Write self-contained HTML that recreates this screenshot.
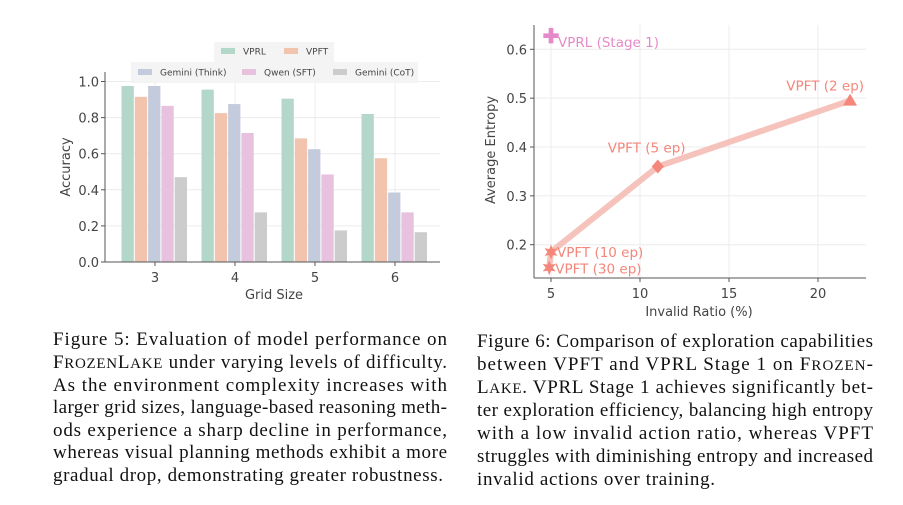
<!DOCTYPE html>
<html><head><meta charset="utf-8"><style>
html,body{margin:0;padding:0;background:#fff;width:903px;height:505px;overflow:hidden}
svg{display:block}
.t{font-family:"DejaVu Sans",sans-serif;fill:#444}
.cap{font-family:"Liberation Serif",serif;font-size:19px;fill:#111}
</style></head><body>
<svg width="903" height="505">
<g id="bar"></g>
<g id="sc"></g>
<g>
<text class="cap" x="53" y="345" textLength="394">Figure 5: Evaluation of model performance on</text>
<text class="cap" x="53" y="368" textLength="394">F<tspan font-size="15">ROZEN</tspan>L<tspan font-size="15">AKE</tspan> under varying levels of difficulty.</text>
<text class="cap" x="53" y="391" textLength="394">As the environment complexity increases with</text>
<text class="cap" x="53" y="413" textLength="394">larger grid sizes, language-based reasoning meth-</text>
<text class="cap" x="53" y="436" textLength="394">ods experience a sharp decline in performance,</text>
<text class="cap" x="53" y="458" textLength="394">whereas visual planning methods exhibit a more</text>
<text class="cap" x="53" y="481" textLength="390">gradual drop, demonstrating greater robustness.</text>
</g>
<g>
<text class="cap" x="477" y="347" textLength="396">Figure 6: Comparison of exploration capabilities</text>
<text class="cap" x="477" y="370" textLength="396">between VPFT and VPRL Stage 1 on F<tspan font-size="15">ROZEN</tspan>-</text>
<text class="cap" x="477" y="393" textLength="396">L<tspan font-size="15">AKE</tspan>. VPRL Stage 1 achieves significantly bet-</text>
<text class="cap" x="477" y="416" textLength="396">ter exploration efficiency, balancing high entropy</text>
<text class="cap" x="477" y="439" textLength="396">with a low invalid action ratio, whereas VPFT</text>
<text class="cap" x="477" y="462" textLength="396">struggles with diminishing entropy and increased</text>
<text class="cap" x="477" y="485" textLength="238">invalid actions over training.</text>
</g>
</svg>
<script>
const NS='http://www.w3.org/2000/svg';
function mk(p,tag,a,txt){const e=document.createElementNS(NS,tag);for(const k in a)e.setAttribute(k,a[k]);if(txt!==undefined)e.textContent=txt;p.appendChild(e);return e;}

// ---- bar chart data
const gridSizes=['3','4','5','6'];
const seriesNames=['VPRL','VPFT','Gemini (Think)','Qwen (SFT)','Gemini (CoT)'];
const vprl=[0.975,0.955,0.905,0.82];
const vpft=[0.915,0.825,0.685,0.575];
const geminiThink=[0.975,0.875,0.625,0.385];
const qwenSft=[0.865,0.715,0.485,0.275];
const geminiCot=[0.47,0.275,0.175,0.165];
const accTicks=[0,0.2,0.4,0.6,0.8,1.0];
const seriesColors=['#b3d7c9','#f2c4ae','#c4cbdc','#e7c1de','#cccccc'];

// ---- scatter data
const pointLabels=['VPFT (2 ep)','VPFT (5 ep)','VPFT (10 ep)','VPFT (30 ep)'];
const invalidRatio=[21.8,11,5,4.9];
const entropy=[0.495,0.36,0.185,0.153];
const vprlPoint=[5,0.627];
const xTicks=[5,10,15,20];
const yTicks=[0.2,0.3,0.4,0.5,0.6];

// bar chart
(function(){
const g=document.getElementById('bar');
const y=v=>262-v*180.5, x=i=>155+i*80;
accTicks.forEach(t=>{const gl=mk(g,'line',{x1:105,x2:440,y1:y(t),y2:y(t),stroke:'#ececec'});

const tl=mk(g,'text',{x:99,y:y(t)+5,'text-anchor':'end','font-size':13,class:'t'},t.toFixed(1));
});
gridSizes.forEach((c,i)=>{mk(g,'line',{x1:x(i),x2:x(i),y1:72,y2:262,stroke:'#ececec'});
const tl=mk(g,'text',{x:x(i),y:282,'text-anchor':'middle','font-size':13,class:'t'},c);

mk(g,'line',{x1:x(i),x2:x(i),y1:262,y2:266,stroke:'#555'});});
const all=[vprl,vpft,geminiThink,qwenSft,geminiCot];
all.forEach((s,j)=>s.forEach((v,i)=>{const r=mk(g,'rect',{x:x(i)-33.5+j*13.3,y:y(v),width:12.3,height:v*180.5,fill:seriesColors[j]});

}));
mk(g,'line',{x1:105,x2:105,y1:72,y2:262,stroke:'#555'});
mk(g,'line',{x1:105,x2:440,y1:262,y2:262,stroke:'#555'});
accTicks.forEach(t=>mk(g,'line',{x1:101,x2:105,y1:y(t),y2:y(t),stroke:'#555'}));
const yl=mk(g,'text',{transform:'translate(70,167) rotate(-90)','text-anchor':'middle','font-size':13,class:'t'},'Accuracy');

const xl=mk(g,'text',{x:274,y:299,'text-anchor':'middle','font-size':13,class:'t'},'Grid Size');

const l1=mk(g,'rect',{x:214,y:42,width:120,height:20,fill:'#f4f4f4'});

const l2=mk(g,'rect',{x:131,y:62,width:287,height:21,fill:'#f4f4f4'});

const lp=[[221,51],[284,51],[138,72],[242,72],[333,72]];
seriesNames.forEach((n,j)=>{mk(g,'rect',{x:lp[j][0],y:lp[j][1]-3,width:14,height:6,fill:seriesColors[j]});
const e=mk(g,'text',{x:lp[j][0]+22,y:lp[j][1]+3.5,'font-size':9,class:'t'},n);
});
})();

// scatter
(function(){
const g=document.getElementById('sc');
const x=v=>551+(v-5)*17.8, y=v=>244.7-(v-0.2)*488.5;
xTicks.forEach(t=>{mk(g,'line',{x1:x(t),x2:x(t),y1:25,y2:278,stroke:'#ececec'});
mk(g,'line',{x1:x(t),x2:x(t),y1:278,y2:282,stroke:'#555'});
const tl=mk(g,'text',{x:x(t),y:298,'text-anchor':'middle','font-size':13,class:'t'},t);
});
yTicks.forEach(t=>{mk(g,'line',{x1:534,x2:866,y1:y(t),y2:y(t),stroke:'#ececec'});
mk(g,'line',{x1:530,x2:534,y1:y(t),y2:y(t),stroke:'#555'});
const tl=mk(g,'text',{x:527,y:y(t)+5,'text-anchor':'end','font-size':13,class:'t'},t.toFixed(1));
});
mk(g,'line',{x1:534,x2:534,y1:25,y2:278,stroke:'#555'});
mk(g,'line',{x1:534,x2:866,y1:278,y2:278,stroke:'#555'});
const pts=invalidRatio.map((v,i)=>x(v)+','+y(entropy[i])).join(' ');
const pl=mk(g,'polyline',{points:pts,fill:'none',stroke:'#f4b8b0',"stroke-width":6,'stroke-linejoin':'round','stroke-opacity':0.85});

const c='#f4867a';
invalidRatio.forEach((v,i)=>{const px=x(v),py=y(entropy[i]);let m;
if(i===0)m=mk(g,'polygon',{points:`${px},${py-7} ${px-7},${py+5} ${px+7},${py+5}`,fill:c});
else if(i===1)m=mk(g,'polygon',{points:`${px},${py-7} ${px+6},${py} ${px},${py+7} ${px-6},${py}`,fill:c});
else{const pp=[];for(let k=0;k<12;k++){const r=k%2?3.5:7.5,a=-Math.PI/2+k*Math.PI/6;pp.push((px+r*Math.cos(a)).toFixed(1)+','+(py+r*Math.sin(a)).toFixed(1));}
m=mk(g,'polygon',{points:pp.join(' '),fill:c});}

});
const lab=[[x(invalidRatio[0])+14,y(entropy[0])-10,'end'],[x(invalidRatio[1])-50,y(entropy[1])-14,'start'],[x(invalidRatio[2])+6,y(entropy[2])+5,'start'],[x(invalidRatio[3])+6,y(entropy[3])+6,'start']];
pointLabels.forEach((n,i)=>{const e=mk(g,'text',{x:lab[i][0],y:lab[i][1],'text-anchor':lab[i][2],'font-size':13.5,class:'t',style:'fill:#f4867a'},n);
});
const vx=x(vprlPoint[0]),vy=y(vprlPoint[1]);
const vp=mk(g,'text',{x:vx,y:vy+7,'text-anchor':'middle','font-size':20,'font-weight':'bold',fill:'#e58ac8'},'✚');

const vl=mk(g,'text',{x:vx+7,y:vy+11,'font-size':13.5,class:'t',style:'fill:#e58ac8'},'VPRL (Stage 1)');

const yl=mk(g,'text',{transform:'translate(495,150) rotate(-90)','text-anchor':'middle','font-size':13,class:'t'},'Average Entropy');

const xl=mk(g,'text',{x:699,y:316,'text-anchor':'middle','font-size':13,class:'t'},'Invalid Ratio (%)');

})();
</script>
</body></html>
